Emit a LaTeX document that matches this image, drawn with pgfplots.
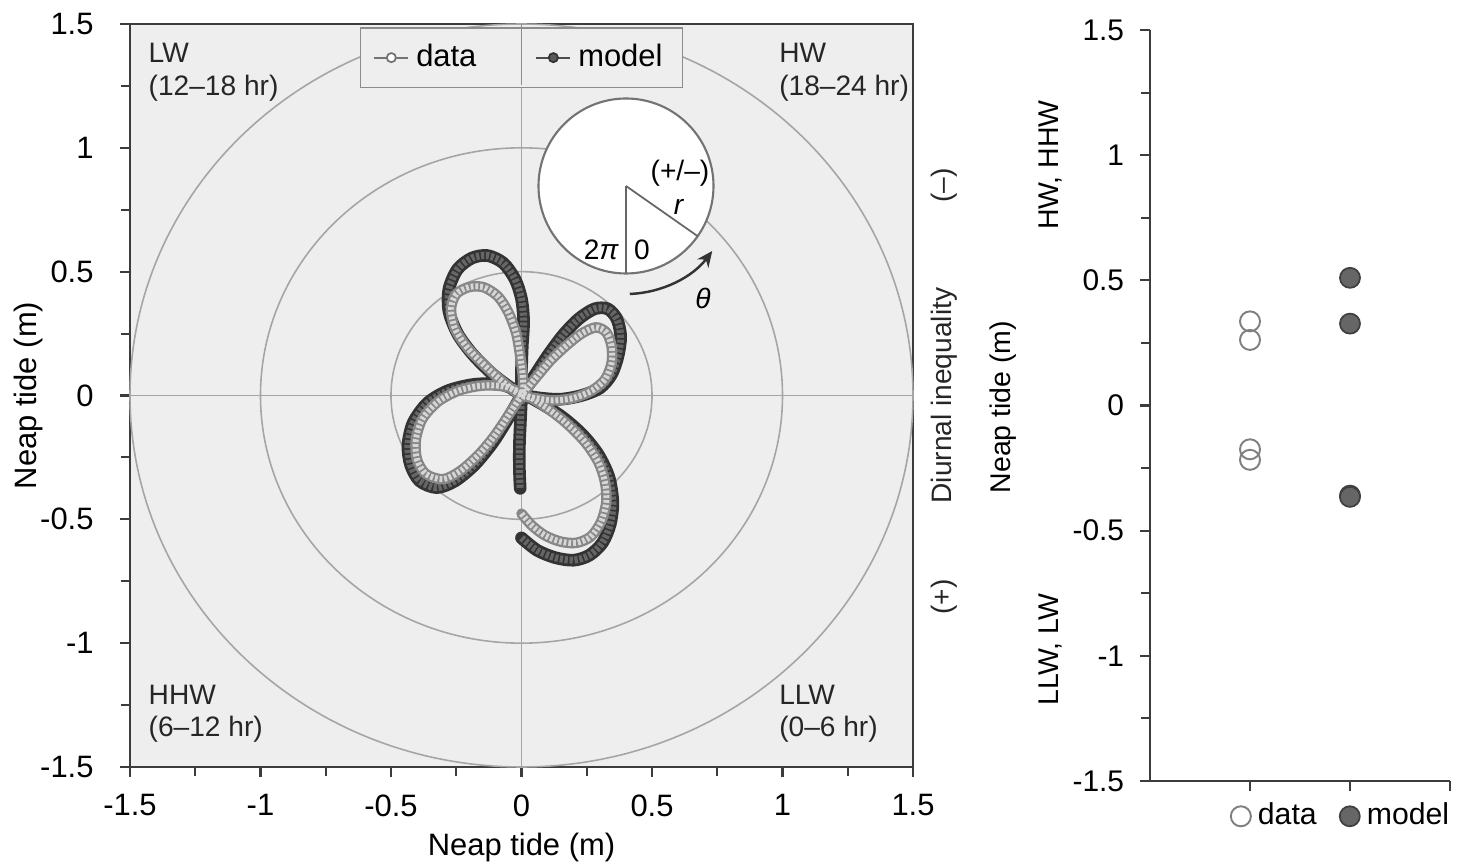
\documentclass[border=0pt]{standalone}
\usepackage{fontspec}
\setmainfont{Liberation Sans}
\usepackage{pgfplots}
\usepackage{pgfplotstable}
\pgfplotsset{compat=1.18}
\usetikzlibrary{arrows.meta}

\definecolor{panelbg}{RGB}{238,238,238}
\definecolor{axisdark}{RGB}{60,60,60}
\definecolor{refline}{RGB}{165,165,165}

% model trajectory (neap tide, m)
\pgfplotstableread{
x y
0.0 -0.575
0.06 -0.625
0.13 -0.655
0.2 -0.665
0.26 -0.645
0.31 -0.595
0.34 -0.52
0.35 -0.43
0.335 -0.33
0.295 -0.24
0.235 -0.16
0.16 -0.09
0.08 -0.035
0.0 0.01
-0.08 0.045
-0.18 0.045
-0.28 0.02
-0.36 -0.03
-0.415 -0.11
-0.435 -0.2
-0.425 -0.28
-0.39 -0.345
-0.325 -0.372
-0.255 -0.345
-0.18 -0.28
-0.11 -0.19
-0.05 -0.09
0.0 0.0
0.05 0.08
0.1 0.16
0.16 0.245
0.22 0.31
0.28 0.35
0.33 0.35
0.365 0.31
0.38 0.24
0.37 0.16
0.345 0.085
0.3 0.03
0.23 0.0
0.15 -0.015
0.07 -0.01
0.0 0.005
-0.06 0.045
-0.12 0.095
-0.19 0.17
-0.245 0.25
-0.278 0.34
-0.278 0.43
-0.245 0.51
-0.19 0.555
-0.13 0.565
-0.07 0.535
-0.025 0.47
0.0 0.39
0.008 0.3
0.003 0.2
0.0 0.1
0.0 0.0
-0.004 -0.1
-0.008 -0.2
-0.008 -0.3
-0.005 -0.375
}\modelpath

% observed trajectory (neap tide, m)
\pgfplotstableread{
x y
0.0 -0.477
0.04 -0.525
0.09 -0.565
0.15 -0.59
0.21 -0.595
0.265 -0.57
0.305 -0.51
0.325 -0.43
0.32 -0.35
0.295 -0.27
0.245 -0.19
0.17 -0.11
0.09 -0.045
0.02 0.0
-0.06 0.035
-0.15 0.04
-0.24 0.02
-0.32 -0.025
-0.38 -0.095
-0.405 -0.18
-0.4 -0.26
-0.365 -0.318
-0.3 -0.338
-0.235 -0.305
-0.165 -0.24
-0.105 -0.165
-0.05 -0.08
0.0 0.0
0.05 0.065
0.11 0.14
0.17 0.2
0.23 0.25
0.285 0.275
0.325 0.255
0.345 0.2
0.345 0.13
0.32 0.065
0.27 0.02
0.2 -0.01
0.12 -0.02
0.05 -0.01
0.0 0.0
-0.06 0.045
-0.13 0.11
-0.205 0.19
-0.255 0.27
-0.27 0.35
-0.25 0.41
-0.2 0.438
-0.145 0.437
-0.09 0.4
-0.05 0.335
-0.02 0.25
-0.005 0.16
0.005 0.08
0.008 0.0
}\datapath

\begin{document}
\begin{tikzpicture}[font=\fontsize{8.8}{10.5}\selectfont]

\begin{axis}[
  scale only axis, width=7.83cm, height=7.43cm,
  at={(1.30cm,0.99cm)}, anchor=south west,
  xmin=-1.5, xmax=1.5, ymin=-1.5, ymax=1.5,
  xtick={-1.5,-1,-0.5,0,0.5,1,1.5},
  ytick={-1.5,-1,-0.5,0,0.5,1,1.5},
  minor tick num=1,
  tick pos=left, tick align=outside,
  major tick length=1mm, minor tick length=0.9mm,
  axis background/.style={fill=panelbg},
  axis line style={axisdark, line width=0.7pt},
  tick style={axisdark, line width=0.6pt},
  /pgf/number format/assume math mode=true,
  xticklabel style={yshift=-1.5pt},
  yticklabel style={xshift=-4pt},
  clip=false,
  xlabel={Neap tide (m)}, ylabel={Neap tide (m)},
  every axis x label/.style={at={(axis description cs:0.5,-0.108)}, anchor=center},
  every axis y label/.style={at={(axis description cs:-0.13,0.5)}, rotate=90, anchor=center},
  legend style={at={(0.5,0.996)}, anchor=north, legend columns=2,
    fill=panelbg, draw=black!45, line width=0.45pt,
    inner xsep=1.3mm, inner ysep=0.9mm,
    /tikz/every even column/.append style={column sep=5.2mm}},
]
% reference circles and zero lines
\draw[refline, line width=0.45pt] (axis cs:0,0) ellipse [x radius=0.5, y radius=0.5];
\draw[refline, line width=0.45pt] (axis cs:0,0) ellipse [x radius=1, y radius=1];
\draw[refline, line width=0.45pt] (axis cs:0,0) ellipse [x radius=1.5, y radius=1.5];
\draw[refline, line width=0.45pt] (axis cs:-1.5,0) -- (axis cs:1.5,0);
\draw[refline, line width=0.45pt] (axis cs:0,-1.5) -- (axis cs:0,1.5);

% model: dark band of filled circles
\addplot[forget plot, smooth, tension=0.5, mark=none, black!80,
  line width=3.6pt, line cap=round, line join=round] table {\modelpath};
\addplot[forget plot, smooth, tension=0.5, mark=none, black!60,
  line width=2.0pt, dash pattern=on 0.9pt off 0.5pt] table {\modelpath};

% data: grey band of open circles
\addplot[forget plot, smooth, tension=0.5, mark=none, black!47,
  line width=3.0pt, line cap=round, line join=round] table {\datapath};
\addplot[forget plot, smooth, tension=0.5, mark=none, black!16,
  line width=1.7pt, dash pattern=on 0.8pt off 0.55pt] table {\datapath};

\addlegendimage{legend image code/.code={
  \draw[black!55, line width=0.5pt] (0cm,0cm) -- (0.34cm,0cm);
  \draw[black!55, fill=white, line width=0.5pt] (0.17cm,0cm) circle (1.3pt);}}
\addlegendentry{data}
\addlegendimage{legend image code/.code={
  \draw[black!70, line width=0.5pt] (0cm,0cm) -- (0.34cm,0cm);
  \draw[black!80, fill=black!65, line width=0.5pt] (0.17cm,0cm) circle (1.3pt);}}
\addlegendentry{model}

% quadrant labels
\begin{scope}[every node/.style={font=\fontsize{8}{9.6}\selectfont, text=black!85, inner sep=0pt}]
\node[anchor=base west] at (axis cs:-1.431,1.345) {LW};
\node[anchor=base west] at (axis cs:-1.431,1.212) {(12–18 hr)};
\node[anchor=base west] at (axis cs:0.985,1.345) {HW};
\node[anchor=base west] at (axis cs:0.985,1.212) {(18–24 hr)};
\node[anchor=base west] at (axis cs:-1.431,-1.249) {HHW};
\node[anchor=base west] at (axis cs:-1.431,-1.378) {(6–12 hr)};
\node[anchor=base west] at (axis cs:0.985,-1.249) {LLW};
\node[anchor=base west] at (axis cs:0.985,-1.378) {(0–6 hr)};
\node[rotate=90] at (axis description cs:1.04,0.5) {Diurnal inequality};
\node[rotate=90] at (axis description cs:1.04,0.783) {(–)};
\node[rotate=90] at (axis description cs:1.04,0.229) {(+)};
\end{scope}
\coordinate (divtop) at (axis cs:0,1.5);
\end{axis}

% divider between the two legend entries
\draw[black!45, line width=0.45pt] (divtop) -- ++(0,-0.61cm);

% inset sketch of the polar convention
\begin{scope}[font=\fontsize{8}{9.6}\selectfont]
\coordinate (C) at (6.26,6.80);
\draw[black!55, fill=white, line width=0.6pt] (C) circle (0.875);
\draw[black!60, line width=0.5pt] (C) -- ++(0,-0.875);
\draw[black!60, line width=0.5pt] (C) -- ++(-35:0.875);
\node at (6.80,6.93) {(+/–)};
\node at (6.79,6.59) {\textit{r}};
\node[anchor=east, inner sep=1pt] at (6.23,6.16) {2\textit{π}};
\node[anchor=west, inner sep=1pt] at (6.30,6.16) {0};
\draw[black!80, line width=0.7pt, -{Stealth[length=4.5pt,width=4pt]}]
  ([shift={(-88:1.08)}]C) arc[start angle=-88, end angle=-37, radius=1.08];
\node at (7.03,5.68) {\textit{θ}};
\end{scope}

% right panel: extreme water levels
\begin{axis}[
  scale only axis, width=3.0cm, height=7.51cm,
  at={(11.50cm,0.85cm)}, anchor=south west,
  xmin=0, xmax=3, ymin=-1.5, ymax=1.5,
  axis x line*=bottom, axis y line*=left,
  x axis line style={-}, y axis line style={-},
  every outer x axis line/.append style={-},
  every outer y axis line/.append style={-},
  axis line style={axisdark, line width=0.7pt},
  tick style={axisdark, line width=0.6pt},
  xtick={1,2,3}, xticklabels={},
  ytick={-1.5,-1,-0.5,0,0.5,1,1.5}, minor y tick num=1,
  tick align=outside,
  major tick length=1mm, minor tick length=0.9mm,
  /pgf/number format/assume math mode=true,
  tick label style={font=\fontsize{8.5}{10}\selectfont},
  yticklabel style={xshift=-1pt},
  clip=false,
  legend style={at={(0.232,-0.047)}, anchor=west, draw=none, fill=none,
    legend columns=2, font=\fontsize{8.6}{10}\selectfont,
    /tikz/every even column/.append style={column sep=1.6mm}},
  legend cell align=left,
]
\addplot[only marks, mark=o, mark size=2.85pt, mark options={draw=black!50, line width=0.55pt}]
  coordinates {(1,0.336) (1,0.262) (1,-0.175) (1,-0.217)};
\addlegendentry{data}
\addplot[only marks, mark=*, mark size=2.85pt, mark options={draw=black!75, fill=black!60, line width=0.5pt}]
  coordinates {(2,0.51) (2,0.327) (2,-0.36) (2,-0.365)};
\addlegendentry{model}

\begin{scope}[every node/.style={font=\fontsize{8.1}{9.6}\selectfont, rotate=90}]
\node at (axis description cs:-0.49,0.498) {Neap tide (m)};
\node at (axis description cs:-0.333,0.82) {HW, HHW};
\node at (axis description cs:-0.333,0.175) {LLW, LW};
\end{scope}
\end{axis}

\pgfresetboundingbox
\path (0,0) rectangle (14.57,8.66);
\end{tikzpicture}
\end{document}
